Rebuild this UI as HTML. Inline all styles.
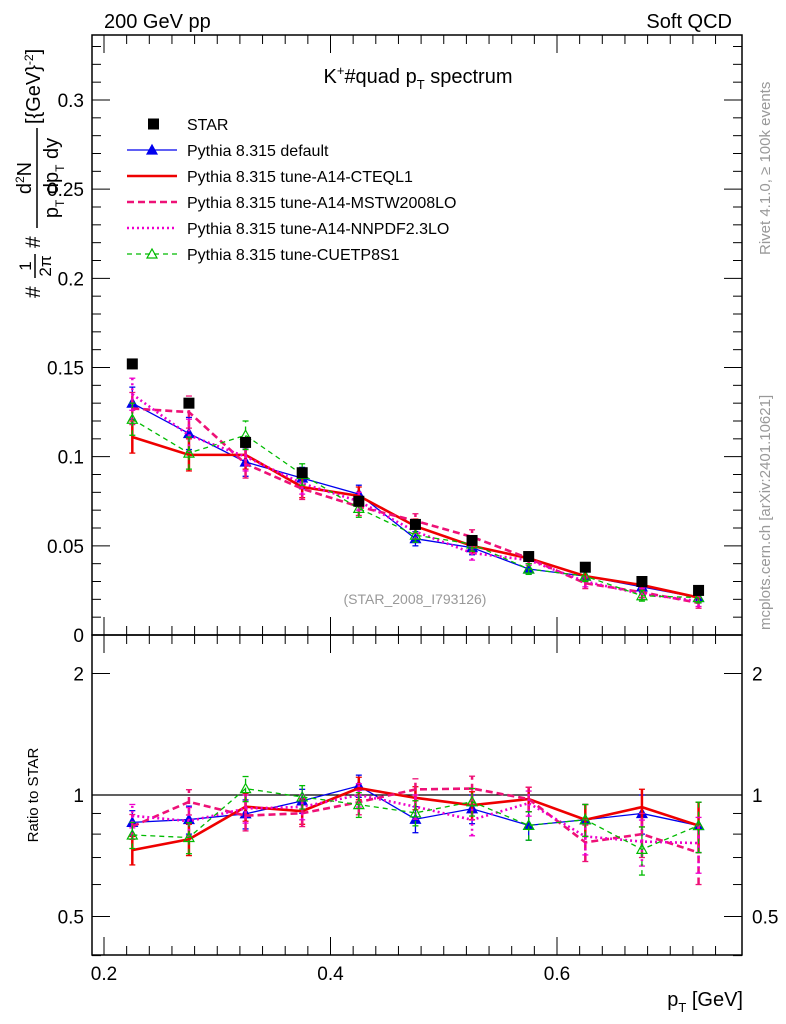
<!DOCTYPE html>
<html><head><meta charset="utf-8"><style>
body{margin:0;background:#fff;}
svg{display:block;font-family:"Liberation Sans",sans-serif;}
</style></head><body>
<svg id="c" width="786" height="1024" viewBox="0 0 786 1024" xmlns="http://www.w3.org/2000/svg">
<rect x="0" y="0" width="786" height="1024" fill="#fff"/>
<text x="104" y="28" font-size="20">200 GeV pp</text>
<text x="732" y="28" font-size="20" text-anchor="end">Soft QCD</text>
<text x="418" y="83" font-size="20" text-anchor="middle">K<tspan font-size="13" dy="-8">+</tspan><tspan dy="8">#quad p</tspan><tspan font-size="13" dy="6">T</tspan><tspan dy="-6"> spectrum</tspan></text>
<text x="415" y="604" font-size="14" fill="#999" text-anchor="middle">(STAR_2008_I793126)</text>
<text transform="translate(770,255) rotate(-90)" font-size="15" fill="#999">Rivet 4.1.0, ≥ 100k events</text>
<text transform="translate(770,630) rotate(-90)" font-size="15" fill="#999">mcplots.cern.ch [arXiv:2401.10621]</text>
<g font-size="20">
<text transform="translate(40,298) rotate(-90)" font-size="21">#</text>
<text transform="translate(31,266) rotate(-90)" font-size="17" text-anchor="middle">1</text>
<line x1="35" y1="254" x2="35" y2="278" stroke="#000" stroke-width="1.5"/>
<text transform="translate(51,266) rotate(-90)" font-size="17" text-anchor="middle">2π</text>
<text transform="translate(40,248) rotate(-90)" font-size="21">#</text>
<text transform="translate(31,178) rotate(-90)" font-size="20" text-anchor="middle">d<tspan font-size="12" dy="-7">2</tspan><tspan dy="7">N</tspan></text>
<line x1="37" y1="228" x2="37" y2="128" stroke="#000" stroke-width="1.5"/>
<text transform="translate(58,178) rotate(-90)" font-size="20" text-anchor="middle">p<tspan font-size="12" dy="6">T</tspan><tspan dy="-6"> dp</tspan><tspan font-size="12" dy="6">T</tspan><tspan dy="-6"> dy</tspan></text>
<text transform="translate(40,124) rotate(-90)" font-size="20">[{GeV}<tspan font-size="12" dy="-7">-2</tspan><tspan dy="7">]</tspan></text>
</g>
<text x="743" y="1006" font-size="20" text-anchor="end">p<tspan font-size="13" dy="6">T</tspan><tspan dy="-6"> [GeV]</tspan></text>
<text transform="translate(38,795) rotate(-90)" font-size="15" text-anchor="middle">Ratio to STAR</text>
<g id="plot"></g>
</svg>
<script>
const xs=[0.225,0.275,0.325,0.375,0.425,0.475,0.525,0.575,0.625,0.675,0.725];
const star=[0.152,0.130,0.108,0.091,0.075,0.062,0.053,0.044,0.038,0.030,0.025];
const sDefault=[0.130,0.113,0.097,0.088,0.079,0.054,0.049,0.037,0.033,0.027,0.021];
const sCteq=[0.111,0.101,0.101,0.083,0.078,0.061,0.050,0.043,0.033,0.028,0.021];
const sMstw=[0.127,0.125,0.096,0.082,0.072,0.064,0.055,0.043,0.029,0.024,0.018];
const sNnpdf=[0.135,0.112,0.100,0.085,0.075,0.058,0.046,0.042,0.030,0.023,0.019];
const sCuetp=[0.121,0.102,0.112,0.090,0.071,0.056,0.051,0.037,0.033,0.022,0.021];
const errs=[0.009,0.009,0.008,0.006,0.005,0.004,0.004,0.003,0.003,0.003,0.003];
const yTicks=[0,0.05,0.1,0.15,0.2,0.25,0.3];
const yTickLabels=["0","0.05","0.1","0.15","0.2","0.25","0.3"];
const xTicks=[0.2,0.4,0.6];
const xTickLabels=["0.2","0.4","0.6"];
const rTicks=[0.5,1,2];
const rTickLabels=["0.5","1","2"];

const L=92,R=742,T=35,MB=635,RB=955;
const X=v=>104+(v-0.2)*1132.5;
const Y=v=>635-v*(535/0.3);
const RY=r=>795-Math.log2(r)*121.5;
const NS="http://www.w3.org/2000/svg";
const g=document.getElementById('plot');
function mk(t,a,p){const e=document.createElementNS(NS,t);for(const k in a)e.setAttribute(k,a[k]);(p||g).appendChild(e);return e;}

let f=mk('rect',{x:L,y:T,width:R-L,height:MB-T,fill:'none',stroke:'#000','stroke-width':1.5});


f=mk('rect',{x:L,y:MB,width:R-L,height:RB-MB,fill:'none',stroke:'#000','stroke-width':1.5});


for(let v=0;v<=0.335;v+=0.01){const y=Y(v);if(y<T)break;const maj=Math.abs(v/0.05-Math.round(v/0.05))<1e-6;const w=maj?18:9;
mk('line',{x1:L,x2:L+w,y1:y,y2:y,stroke:'#000'});mk('line',{x1:R,x2:R-w,y1:y,y2:y,stroke:'#000'});}
yTicks.forEach((v,i)=>{const t=mk('text',{x:84,y:Y(v)+7,'font-size':19,'text-anchor':'end'});t.textContent=yTickLabels[i];

});
for(let v=0.2;v<=0.75;v+=0.02){const x=X(v);if(x<L||x>R)continue;const maj=Math.abs(v*10-Math.round(v*10))<1e-6&&Math.round(v*10)%2==0;const w=maj?18:9;
[[MB,-1],[T,1],[RB,-1],[MB,1]].forEach(([y0,d])=>mk('line',{x1:x,x2:x,y1:y0,y2:y0+d*w,stroke:'#000'}));}
xTicks.forEach((v,i)=>{const t=mk('text',{x:X(v),y:980,'font-size':19,'text-anchor':'middle'});t.textContent=xTickLabels[i];

});
[0.4,0.5,0.6,0.7,0.8,0.9,1,2].forEach(r=>{const y=RY(r);const maj=(r==0.5||r==1||r==2);const w=maj?18:9;
mk('line',{x1:L,x2:L+w,y1:y,y2:y,stroke:'#000'});mk('line',{x1:R,x2:R-w,y1:y,y2:y,stroke:'#000'});});
rTicks.forEach((v,i)=>{[[84,'end'],[752,'start']].forEach(([x,a])=>{const t=mk('text',{x:x,y:RY(v)+7,'font-size':19,'text-anchor':a});t.textContent=rTickLabels[i];

});});
mk('line',{x1:L,x2:R,y1:RY(1),y2:RY(1),stroke:'#000','stroke-width':1.2});

const series=[
 {n:'default',d:sDefault,c:'#0000ee',w:1.3,da:'',m:'tri'},
 {n:'cteql1',d:sCteq,c:'#ee0000',w:2.6,da:'',m:'none'},
 {n:'mstw2008lo',d:sMstw,c:'#ee1177',w:2.6,da:'7,4',m:'none'},
 {n:'nnpdf',d:sNnpdf,c:'#ee00cc',w:2.6,da:'2,3',m:'none'},
 {n:'cuetp8s1',d:sCuetp,c:'#00bb00',w:1.3,da:'5,4',m:'otri'}];
function tri(x,y,c,open,p){return mk('path',{d:`M${x-5},${y+4}L${x+5},${y+4}L${x},${y-5}Z`,fill:open?'none':c,stroke:c,'stroke-width':1.2},p);}
series.forEach(s=>{
 const grp=mk('g',{});
 
 
 const pts=xs.map((x,i)=>X(x)+','+Y(s.d[i])).join(' ');
 mk('polyline',{points:pts,fill:'none',stroke:s.c,'stroke-width':s.w,'stroke-dasharray':s.da},grp);
 const rp=xs.map((x,i)=>X(x)+','+RY(s.d[i]/star[i])).join(' ');
 mk('polyline',{points:rp,fill:'none',stroke:s.c,'stroke-width':s.w,'stroke-dasharray':s.da},grp);
 xs.forEach((x,i)=>{const px=X(x);const e=errs[i];
  [[Y(s.d[i]-e),Y(s.d[i]+e)],[RY((s.d[i]-e)/star[i]),RY((s.d[i]+e)/star[i])]].forEach(([a,b])=>{
   mk('line',{x1:px,x2:px,y1:a,y2:b,stroke:s.c,'stroke-width':s.w>2?2.5:1.3,'stroke-dasharray':s.da},grp);
   mk('line',{x1:px-3,x2:px+3,y1:a,y2:a,stroke:s.c,'stroke-width':1.3},grp);
   mk('line',{x1:px-3,x2:px+3,y1:b,y2:b,stroke:s.c,'stroke-width':1.3},grp);});
  if(s.m!='none'){tri(px,Y(s.d[i]),s.c,s.m=='otri',grp);tri(px,RY(s.d[i]/star[i]),s.c,s.m=='otri',grp);}
 });
});
xs.forEach((x,i)=>{const r=mk('rect',{x:X(x)-5.5,y:Y(star[i])-5.5,width:11,height:11,fill:'#000'});

});

const leg=mk('g',{});


const names=['STAR','Pythia 8.315 default','Pythia 8.315 tune-A14-CTEQL1','Pythia 8.315 tune-A14-MSTW2008LO','Pythia 8.315 tune-A14-NNPDF2.3LO','Pythia 8.315 tune-CUETP8S1'];
names.forEach((nm,i)=>{const y=124+i*26;
 const t=mk('text',{x:187,y:y+6,'font-size':16},leg);t.textContent=nm;
 if(i==0){mk('rect',{x:148,y:y-5.5,width:11,height:11,fill:'#000'},leg);}
 else{const s=series[i-1];mk('line',{x1:127,x2:177,y1:y,y2:y,stroke:s.c,'stroke-width':s.w,'stroke-dasharray':s.da},leg);
  if(s.m!='none')tri(152,y,s.c,s.m=='otri',leg);}
});
</script>
</body></html>
